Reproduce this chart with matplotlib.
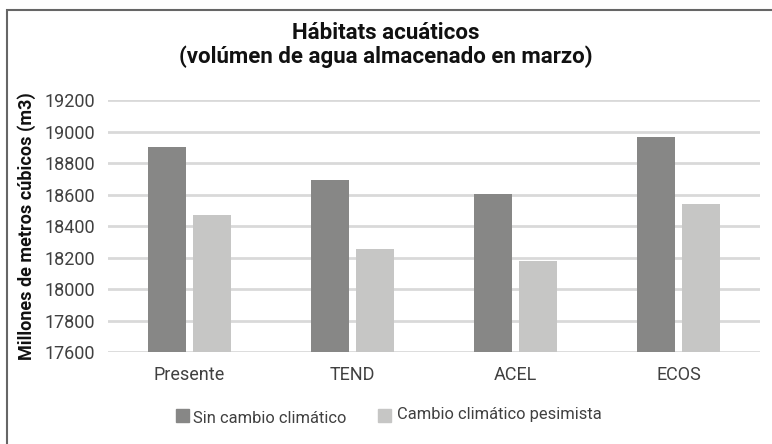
import numpy as np
import matplotlib.pyplot as plt
from matplotlib.patches import Rectangle

plt.rcParams['font.family'] = ['Roboto', 'DejaVu Sans']

categorias = ['Presente', 'TEND', 'ACEL', 'ECOS']
sin_cambio = [18900, 18690, 18602, 18965]
pesimista = [18467, 18253, 18177, 18539]
series = ['Sin cambio climático', 'Cambio climático pesimista']
colores = ['#878786', '#c6c6c5']

W, H = 772, 444
fig = plt.figure(figsize=(W / 100, H / 100), dpi=100)
ax = fig.add_axes([108 / W, 1 - 352 / H, 652 / W, 252 / H])

x = np.arange(len(categorias))
w = 0.233
gap = 0.049
ax.bar(x - (w + gap) / 2, sin_cambio, w, color=colores[0], zorder=3)
ax.bar(x + (w + gap) / 2, pesimista, w, color=colores[1], zorder=3)

ax.set_ylim(17600, 19200)
ax.set_yticks(np.arange(17600, 19201, 200))
ax.set_xlim(-0.5, len(categorias) - 0.5)
ax.set_xticks(x)
ax.set_xticklabels(categorias)
ax.grid(axis='y', color='#d9d9d9', linewidth=2, zorder=0)
for s in ax.spines.values():
    s.set_visible(False)
ax.tick_params(length=0, labelsize=13, colors='#404040')
ax.tick_params(axis='x', pad=10)
ax.tick_params(axis='y', pad=9.5)

ax.set_ylabel('Millones de metros cúbicos (m3)', fontsize=13, fontweight='bold',
              color='#111111', labelpad=6)

fig.text(0.5, 1 - 39 / H, 'Hábitats acuáticos', ha='center', va='baseline',
         fontsize=16, fontweight='bold', color='#111111')
fig.text(0.5, 1 - 63 / H, '(volúmen de agua almacenado en marzo)', ha='center', va='baseline',
         fontsize=16, fontweight='bold', color='#111111')

# leyenda manual (las etiquetas no quedan alineadas en el original)
leg = [(176, 422, 193, 423), (378, 422, 397, 419)]
for (sx, sy, tx, ty), lab, c in zip(leg, series, colores):
    fig.patches.append(Rectangle((sx / W, 1 - sy / H), 13 / W, 13 / H,
                                 transform=fig.transFigure, color=c))
    fig.text(tx / W, 1 - ty / H, lab, ha='left', va='baseline',
             fontsize=11.9, color='#404040')

# marco (solo se ven los lados superior e izquierdo)
fig.patches.append(Rectangle((6.5 / W, -10 / H), (W + 10) / W, (H - 0.5) / H,
                             transform=fig.transFigure, fill=False,
                             edgecolor='#666666', linewidth=1.5))

fig.savefig('out.png', dpi=100)
